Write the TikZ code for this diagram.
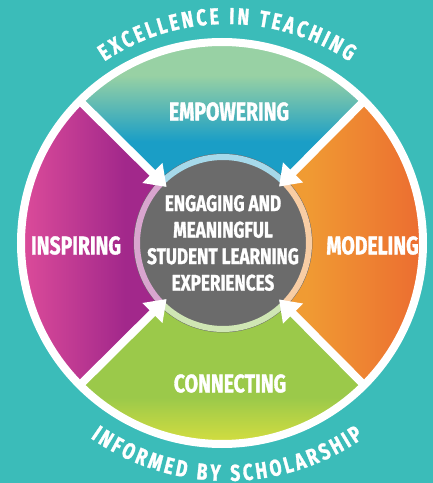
\documentclass[tikz,border=0pt]{standalone}
\usepackage{fontspec}
\newfontfamily\dinfont{Fira Sans}[FakeStretch=0.76, BoldFeatures={FakeBold=1.3}]
\usetikzlibrary{arrows.meta,decorations.text}

\definecolor{bgteal}{RGB}{59,188,185}
\definecolor{empgreen}{RGB}{152,209,164}
\definecolor{empblue}{RGB}{26,158,198}
\definecolor{inspink}{RGB}{229,81,156}
\definecolor{inspurple}{RGB}{162,40,139}
\definecolor{modlight}{RGB}{240,155,51}
\definecolor{moddark}{RGB}{235,100,48}
\definecolor{congreen}{RGB}{155,201,74}
\definecolor{conyellow}{RGB}{227,227,61}
\definecolor{coregray}{RGB}{107,107,107}
\definecolor{ringblue}{RGB}{166,217,234}
\definecolor{ringorange}{RGB}{248,205,164}
\definecolor{ringgreen}{RGB}{207,230,180}
\definecolor{ringpurple}{RGB}{217,165,207}

\pgfdeclareverticalshading{empowershade}{100bp}{color(0bp)=(empblue); color(48bp)=(empblue); color(63bp)=(empgreen); color(100bp)=(empgreen)}
\pgfdeclarehorizontalshading{inspireshade}{100bp}{color(0bp)=(inspink); color(26bp)=(inspink); color(53bp)=(inspurple); color(100bp)=(inspurple)}
\pgfdeclarehorizontalshading{modelshade}{100bp}{color(0bp)=(modlight); color(44bp)=(modlight); color(75bp)=(moddark); color(100bp)=(moddark)}
\pgfdeclareverticalshading{connectshade}{100bp}{color(0bp)=(conyellow); color(27bp)=(conyellow); color(40bp)=(congreen); color(100bp)=(congreen)}

\newcommand\arcfont{\dinfont\bfseries\fontsize{23}{23}\selectfont}

\tikzset{
  seglabel/.style={text=white, font=\dinfont\bfseries\fontsize{25.5}{25.5}\selectfont},
  core/.style={circle, fill=coregray, minimum size=168pt, inner sep=0pt, outer sep=0pt,
    text=white, align=center, font=\dinfont\bfseries\fontsize{22.5}{26.5}\selectfont},
  ring/.style={line width=6pt},
  spoke/.style={white, line width=8pt, -{Triangle[length=20pt,width=27pt]}, shorten >=-10pt},
  arctext/.style={decorate, decoration={text along path, text align=fit to path, text color=white}}
}

\begin{document}
\begin{tikzpicture}[x=1pt,y=1pt]
\fill[bgteal] (0,0) rectangle (433,483);
\useasboundingbox (0,0) rectangle (433,483);
\coordinate (c) at (222,240);
\coordinate (ct) at (227,240);

\shade[shading=empowershade] (c) -- ++(45:201) arc[start angle=45,end angle=135,radius=201] -- cycle;
\shade[shading=inspireshade] (c) -- ++(135:201) arc[start angle=135,end angle=225,radius=201] -- cycle;
\shade[shading=connectshade] (c) -- ++(225:201) arc[start angle=225,end angle=315,radius=201] -- cycle;
\shade[shading=modelshade] (c) -- ++(315:201) arc[start angle=315,end angle=405,radius=201] -- cycle;
\draw[white, line width=8pt] (c) circle[radius=201];

\node[core] (core) at (223,240) {ENGAGING AND\\MEANINGFUL\\STUDENT LEARNING\\EXPERIENCES};
\draw[ring, ringblue] (core.center) ++(45:86) arc[start angle=45,end angle=135,radius=86];
\draw[ring, ringpurple] (core.center) ++(135:86) arc[start angle=135,end angle=225,radius=86];
\draw[ring, ringgreen] (core.center) ++(225:86) arc[start angle=225,end angle=315,radius=86];
\draw[ring, ringorange] (core.center) ++(315:86) arc[start angle=315,end angle=405,radius=86];

\foreach \ang/\nm in {45/NE,135/NW,225/SW,315/SE}{
  \path (c) ++(\ang:201) coordinate (rim\nm);
  \draw[spoke] (rim\nm) -- (core);
}

\node[seglabel] (empower) at (229,371.5) {EMPOWERING};
\node[seglabel] (inspire) at (76,237.5) {INSPIRING};
\node[seglabel] (model) at (372.5,237.5) {MODELING};
\node[seglabel] (connect) at (230,99.5) {CONNECTING};

\path (ct) ++(124:219) coordinate (topstart);
\path (ct) ++(235:238) coordinate (botstart);
\path[arctext, decoration={text={|\arcfont|EXCELLENCE IN TEACHING}}]
  (topstart) arc[start angle=124,end angle=56,radius=219];
\path[arctext, decoration={text={|\arcfont|INFORMED BY SCHOLARSHIP}}]
  (botstart) arc[start angle=235,end angle=305,radius=238];
\end{tikzpicture}
\end{document}
